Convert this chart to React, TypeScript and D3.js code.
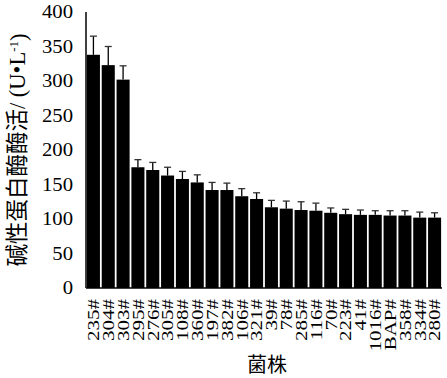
import React from "react";
import * as d3 from "d3";

const strains = ["235#","304#","303#","295#","276#","305#","108#","360#","197#","382#","106#","321#","39#","78#","285#","116#","70#","223#","41#","1016#","BAP#","358#","334#","280#"];
const activity = [338,323,302,175,171,163,158,153,142,142,133,129,117,115,113,112,109,107,106,106,105,105,102,102];
const errors = [27,27,20,11,11,12,11,11,11,10,11,9,10,11,12,11,7,7,7,6,7,7,8,7];
const yTicks = [0,50,100,150,200,250,300,350,400];

const W = 447, H = 378;
const left = 86, right = 442, top = 12, bottom = 288;

export default function App() {
  const x = d3.scaleBand<string>().domain(strains).range([left, right]).paddingInner(0.12).paddingOuter(0.06);
  const y = d3.scaleLinear().domain([0, 400]).range([bottom, top]);
  const serif = "'Liberation Serif', 'Times New Roman', serif";
  const cjk = "'Noto Sans CJK SC', sans-serif";
  return (
    <svg width={W} height={H} style={{ position: "absolute", left: 0, top: 0, background: "#fff" }}>
      <rect x={0} y={0} width={W} height={H} fill="#fff" />
      {strains.map((s, i) => {
        const bx = x(s)!;
        const cx = bx + x.bandwidth() / 2;
        return (
          <g key={s}>
            <rect x={bx} y={y(activity[i])} width={x.bandwidth()} height={y(0) - y(activity[i])} fill="#000" />
            <line x1={cx} x2={cx} y1={y(activity[i])} y2={y(activity[i] + errors[i])} stroke="#000" strokeWidth={1.3} />
            <line x1={cx - 3.5} x2={cx + 3.5} y1={y(activity[i] + errors[i])} y2={y(activity[i] + errors[i])} stroke="#333" strokeWidth={1.3} />
          </g>
        );
      })}
      <line x1={left} x2={left} y1={top} y2={bottom} stroke="#000" strokeWidth={1.5} />
      <line x1={left} x2={right} y1={bottom} y2={bottom} stroke="#000" strokeWidth={1.5} />
      {yTicks.map((t) => (
        <text key={t} transform={`translate(73,${y(t)}) scale(1.15,1)`} textAnchor="end" dy="0.35em" fontFamily={serif} fontSize={18} fill="#000">
          {t}
        </text>
      ))}
      {strains.map((s) => {
        const cx = x(s)! + x.bandwidth() / 2;
        return (
          <text key={s} transform={`translate(${cx},299) scale(0.82,1) rotate(-90)`} textAnchor="end" dy="0.34em" fontFamily={serif} fontSize={21} fill="#000">
            {s}
          </text>
        );
      })}
      <text transform={`translate(17,150) rotate(-90)`} textAnchor="middle" dy="0.35em" fill="#000" fontSize={22.5}>
        <tspan fontFamily={cjk}>碱性蛋白酶酶活</tspan>
        <tspan fontFamily={serif}>/ (U•L</tspan>
        <tspan fontFamily={serif} fontSize={13} dy="-0.55em">-1</tspan>
        <tspan fontFamily={serif} dy="0.35em">)</tspan>
      </text>
      <text x={267} y={372} textAnchor="middle" fontFamily={cjk} fontSize={20} fill="#000">菌株</text>
    </svg>
  );
}
